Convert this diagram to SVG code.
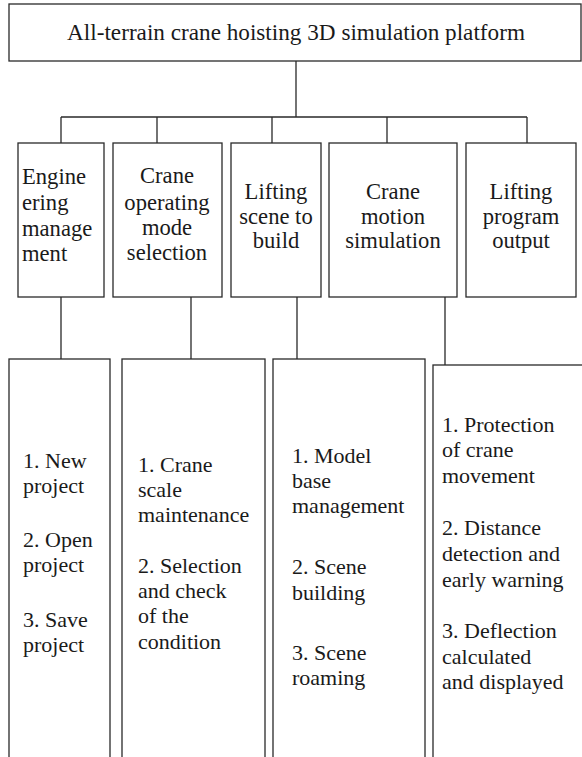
<svg xmlns="http://www.w3.org/2000/svg" width="582" height="757" viewBox="0 0 582 757">
  <style>
    .box { fill: #ffffff; stroke: #2a2a2a; stroke-width: 1.3; }
    .wire { fill: none; stroke: #2a2a2a; stroke-width: 1.3; }
    .lbl { font-family: 'Liberation Serif', Tinos, 'Times New Roman', Times, serif; font-size: 22px; fill: #1a1a1a; }
    .top { font-size: 23.2px; }
    .l2 { font-size: 22.6px; }
    .mid { text-anchor: middle; }
  </style>
  <rect width="582" height="757" fill="#ffffff"/>

  <!-- connectors -->
  <g id="connectors">
    <path class="wire" d="M296 61 V117 M61 117 H527 M61 117 V143 M157 117 V143 M272 117 V143 M387 117 V143 M527 117 V143"/>
    <path class="wire" d="M61 297 V359 M191 297 V359 M297 297 V359 M445 297 V365"/>
  </g>

  <!-- root -->
  <g id="root" class="lbl top">
    <rect class="box" x="9" y="4" width="572" height="57"/>
    <text class="mid" x="296" y="40">All-terrain crane hoisting 3D simulation platform</text>
  </g>

  <!-- second level -->
  <g id="engineering" class="lbl l2">
    <rect class="box" x="18" y="143" width="86" height="154"/>
    <text x="22" y="184">Engine</text>
    <text x="22" y="210">ering</text>
    <text x="22" y="236">manage</text>
    <text x="22" y="261">ment</text>
  </g>
  <g id="mode" class="lbl l2">
    <rect class="box" x="113" y="143" width="109" height="154"/>
    <text class="mid" x="167" y="183">Crane</text>
    <text class="mid" x="167" y="210">operating</text>
    <text class="mid" x="167" y="235">mode</text>
    <text class="mid" x="167" y="260">selection</text>
  </g>
  <g id="scene" class="lbl l2">
    <rect class="box" x="231" y="143" width="90" height="154"/>
    <text class="mid" x="276" y="199">Lifting</text>
    <text class="mid" x="276" y="224">scene to</text>
    <text class="mid" x="276" y="248">build</text>
  </g>
  <g id="motion" class="lbl l2">
    <rect class="box" x="329" y="143" width="128" height="154"/>
    <text class="mid" x="393" y="199">Crane</text>
    <text class="mid" x="393" y="224">motion</text>
    <text class="mid" x="393" y="248">simulation</text>
  </g>
  <g id="output" class="lbl l2">
    <rect class="box" x="466" y="143" width="110" height="154"/>
    <text class="mid" x="521" y="199">Lifting</text>
    <text class="mid" x="521" y="224">program</text>
    <text class="mid" x="521" y="248">output</text>
  </g>

  <!-- third level -->
  <g id="project-items" class="lbl">
    <rect class="box" x="9" y="359" width="101" height="420"/>
    <text x="23" y="468">1. New</text>
    <text x="23" y="493">project</text>
    <text x="23" y="547">2. Open</text>
    <text x="23" y="572">project</text>
    <text x="23" y="627">3. Save</text>
    <text x="23" y="652">project</text>
  </g>
  <g id="mode-items" class="lbl">
    <rect class="box" x="122" y="359" width="143" height="420"/>
    <text x="138" y="472">1. Crane</text>
    <text x="138" y="497">scale</text>
    <text x="138" y="522">maintenance</text>
    <text x="138" y="573">2. Selection</text>
    <text x="138" y="598">and check</text>
    <text x="138" y="623">of the</text>
    <text x="138" y="649">condition</text>
  </g>
  <g id="scene-items" class="lbl">
    <rect class="box" x="273" y="359" width="152" height="420"/>
    <text x="292" y="463">1. Model</text>
    <text x="292" y="488">base</text>
    <text x="292" y="513">management</text>
    <text x="292" y="574">2. Scene</text>
    <text x="292" y="600">building</text>
    <text x="292" y="660">3. Scene</text>
    <text x="292" y="685">roaming</text>
  </g>
  <g id="motion-items" class="lbl">
    <rect class="box" x="433" y="365" width="160" height="420"/>
    <text x="442" y="432">1. Protection</text>
    <text x="442" y="457">of crane</text>
    <text x="442" y="483">movement</text>
    <text x="442" y="535">2. Distance</text>
    <text x="442" y="561">detection and</text>
    <text x="442" y="587">early warning</text>
    <text x="442" y="638">3. Deflection</text>
    <text x="442" y="664">calculated</text>
    <text x="442" y="689">and displayed</text>
  </g>
</svg>
